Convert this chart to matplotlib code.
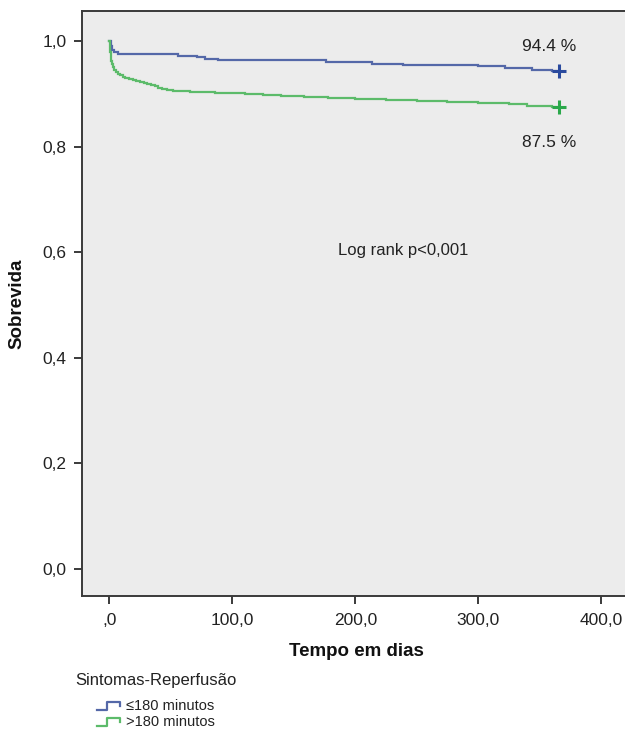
import matplotlib
matplotlib.use("Agg")
import matplotlib.pyplot as plt
from matplotlib.lines import Line2D

plt.rcParams['font.family'] = ['Liberation Sans', 'DejaVu Sans']

# Kaplan-Meier step data: time (days) at which survival changes, survival after the step
blue_times = [0, 1, 2, 4, 7, 56, 71, 78, 88, 176, 214, 239, 300, 322, 344, 360]
blue_surv = [1.0, 0.990, 0.984, 0.979, 0.975, 0.972, 0.969, 0.966, 0.964,
             0.961, 0.957, 0.955, 0.952, 0.949, 0.945, 0.944]
blue_end = 366

green_times = [0, 0.3, 0.6, 1, 1.5, 2, 3, 4, 5.5, 7, 9, 11, 13, 16, 19, 22,
               25, 28, 31, 34, 37, 40, 43, 47, 52, 58, 66, 76, 86, 96, 110,
               125, 140, 158, 178, 200, 225, 250, 275, 300, 325, 340, 352,
               360, 364]
green_surv = [1.0, 0.990, 0.980, 0.970, 0.962, 0.956, 0.950, 0.946, 0.942,
              0.938, 0.935, 0.932, 0.930, 0.928, 0.926, 0.924, 0.922, 0.921,
              0.919, 0.917, 0.915, 0.912, 0.910, 0.908, 0.906, 0.905, 0.904,
              0.903, 0.902, 0.901, 0.899, 0.897, 0.896, 0.894, 0.893, 0.891,
              0.889, 0.887, 0.885, 0.883, 0.880, 0.878, 0.877, 0.876, 0.875]
green_end = 366

group_labels = ["≤180 minutos", ">180 minutos"]
end_labels = ["94.4 %", "87.5 %"]
x_ticks = [0, 100, 200, 300, 400]
x_ticklabels = [",0", "100,0", "200,0", "300,0", "400,0"]
y_ticks = [0.0, 0.2, 0.4, 0.6, 0.8, 1.0]
y_ticklabels = ["0,0", "0,2", "0,4", "0,6", "0,8", "1,0"]

BLUE = "#5468a8"
BLUE_MK = "#2a4a9e"
GREEN = "#5cbb6a"
GREEN_MK = "#2aa84a"
FRAME = "#3a3a3a"

W, H = 625, 731
fig = plt.figure(figsize=(W / 100, H / 100), dpi=100)
ax = fig.add_axes([82 / W, 1 - 596 / H, (W - 82) / W + 0.01, (596 - 11) / H])
ax.set_facecolor("#ececec")

for times, surv, end, col, mk in [(blue_times, blue_surv, blue_end, BLUE, BLUE_MK),
                                  (green_times, green_surv, green_end, GREEN, GREEN_MK)]:
    ax.step(list(times) + [end], list(surv) + [surv[-1]], where="post",
            color=col, lw=1.6, solid_joinstyle="miter")
    ax.plot([end], [surv[-1]], marker="+", ms=10, mew=2.2, color=mk, ls="none")

ax.set_xlim(-22.2, 419.6 * (1 + 0.01 * W / (W - 82)))
ax.set_ylim(-0.051, 1.057)
ax.set_xticks(x_ticks)
ax.set_xticklabels(x_ticklabels)
ax.set_yticks(y_ticks)
ax.set_yticklabels(y_ticklabels)
ax.tick_params(direction="out", length=6, width=1.4, color=FRAME,
               labelsize=12.5, labelcolor="#222222", pad=5)
ax.tick_params(axis="x", pad=6)

for s in ["left", "bottom", "top"]:
    ax.spines[s].set_color(FRAME)
    ax.spines[s].set_linewidth(1.4)
ax.spines["right"].set_visible(False)

ax.set_xlabel("Tempo em dias", fontsize=13.5, fontweight="bold", labelpad=11, color="#111111")
ax.set_ylabel("Sobrevida", fontsize=13.5, fontweight="bold", labelpad=12, color="#111111")

ax.text(358, 0.989, end_labels[0], fontsize=12.5, ha="center", va="center", color="#222222")
ax.text(358, 0.807, end_labels[1], fontsize=12.5, ha="center", va="center", color="#222222")
ax.text(239, 0.604, "Log rank p<0,001", fontsize=12, ha="center", va="center", color="#222222")

# legend block below the axes
fig.text(75 / W, 1 - 681 / H, "Sintomas-Reperfusão", fontsize=12, ha="left", va="center",
         color="#222222")
for i, (lab, col) in enumerate(zip(group_labels, [BLUE, GREEN])):
    yc = 706 + i * 16
    x0, x1, x3 = 97, 107, 120
    ylo, yhi = yc + 4, yc - 4
    xs = [x0, x1, x1, x3, x3]
    ys = [ylo, ylo, yhi, yhi, yc]
    fig.add_artist(Line2D([x / W for x in xs], [1 - y / H for y in ys],
                          transform=fig.transFigure, color=col, lw=1.6))
    fig.text(126 / W, 1 - yc / H, lab, fontsize=10.5, ha="left", va="center", color="#222222")

fig.savefig("out.png", dpi=100, facecolor="white")
